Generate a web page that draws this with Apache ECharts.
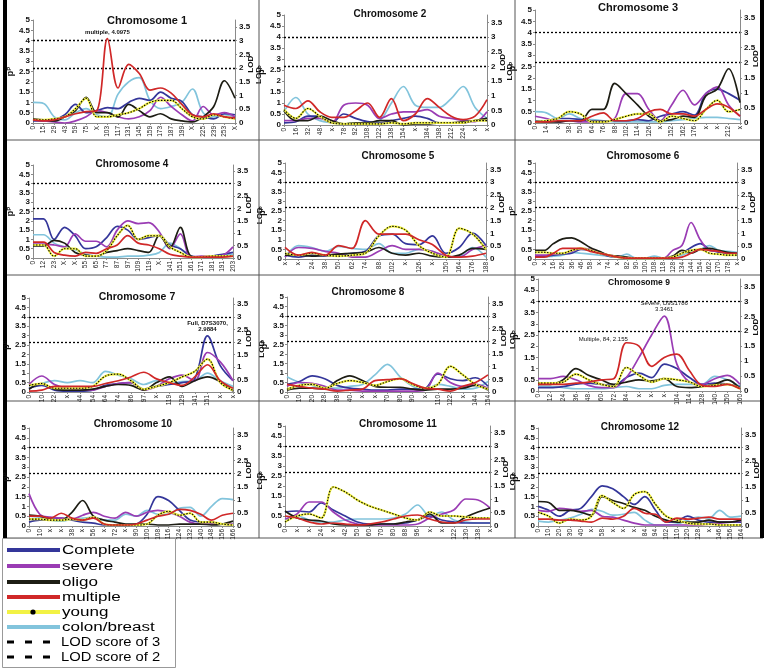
<!DOCTYPE html>
<html>
<head>
<meta charset="utf-8">
<script src="https://cdn.jsdelivr.net/npm/echarts@6/dist/echarts.min.js"></script>
<style>
  html, body { margin: 0; padding: 0; background: #fff; }
  #chart { width: 769px; height: 668px; }
</style>
</head>
<body>
<div id="chart"></div>
<script>
// series order inside each chromosome array:
// Complete, severe, oligo, multiple, young, colon/breast
const SERIES_NAMES = ['Complete', 'severe', 'oligo', 'multiple', 'young', 'colon/breast'];
const SERIES_COLORS = ['#34369a', '#9a3cb4', '#1d1d14', '#d02828', '#f2f244', '#82c4dc'];
const LOD_LINES = [4, 2.667]; // LOD 3 and LOD 2 on the pP scale
const LOD_LEGEND = ['LOD score of 3', 'LOD score of 2'];

const chr1Labels = ['0','15','29','43','59','75','X','103','117','131','145','159','173','187','199','X','225','239','253','X'];
const chr1 = [
  [0.1,0.1,0.15,0.4,0.9,0.5,0.6,0.75,0.7,1.0,1.2,1.1,1.5,1.2,1.05,0.4,0.3,0.2,0.45,0.4],
  [0.15,0.1,0.05,0.0,0.1,0.3,0.6,0.5,0.3,0.2,0.3,0.6,1.25,0.8,0.4,0.1,0.8,0.4,0.5,0.3],
  [0.2,0.15,0.1,0.3,0.6,1.25,0.5,0.5,0.3,0.9,0.6,0.3,0.45,0.2,0.1,0.05,0.3,0.8,2.05,1.2],
  [0.15,0.1,0.15,0.3,0.45,0.55,0.6,4.0975,1.7,2.85,2.4,1.6,1.7,1.45,0.9,0.4,0.3,0.45,0.3,0.25],
  [0.15,0.15,0.2,0.3,0.7,1.2,0.3,0.3,0.4,0.5,0.7,1.0,1.1,1.1,0.7,0.3,0.2,0.4,0.3,0.2],
  [1.0,0.95,0.3,0.15,0.5,0.7,0.4,0.3,1.4,2.0,2.2,1.1,0.7,0.8,1.0,1.65,0.5,0.3,0.4,0.3]
];

const chr2Labels = ['0','16','32','48','x','78','92','108','122','138','154','x','184','198','212','224','x','x'];
const chr2 = [
  [0.1,0.15,0.4,0.4,0.1,0.5,0.3,0.15,0.1,0.2,0.3,0.4,0.3,0.1,0.1,0.1,0.2,0.3],
  [0.2,0.2,0.3,0.3,0.1,0.9,1.0,0.9,0.3,0.5,0.6,0.6,0.7,0.4,0.3,0.2,0.15,0.6],
  [0.65,0.2,0.2,0.4,0.2,0.05,0.1,0.1,0.2,0.2,0.0,0.05,0.05,0.1,0.1,0.15,0.2,0.3],
  [0.9,0.75,1.1,0.6,0.35,0.35,0.65,1.0,0.35,1.2,0.2,0.5,1.2,0.8,0.4,0.25,0.4,1.15],
  [0.7,0.3,0.75,0.4,0.1,0.05,0.05,0.05,0.05,0.1,0.05,0.1,0.1,0.1,0.1,0.1,0.2,0.2],
  [0.6,1.25,0.5,0.2,0.1,0.05,0.1,0.1,0.2,1.0,1.75,0.9,0.8,0.8,1.2,1.75,0.8,0.3]
];

const chr3Labels = ['0','14','x','38','50','64','76','88','102','114','126','x','152','162','176','x','x','212','x'];
const chr3 = [
  [0.1,0.1,0.2,0.2,0.15,0.1,0.1,0.1,0.1,0.15,0.1,0.3,0.4,0.5,0.35,1.3,1.5,1.3,1.0],
  [0.3,0.2,0.05,0.1,0.05,0.05,0.05,0.2,1.3,1.3,0.6,0.1,0.8,1.45,0.8,1.3,1.6,0.8,0.3],
  [0.05,0.05,0.05,0.1,0.1,0.6,0.6,1.75,1.3,0.8,0.3,0.1,0.15,0.3,0.25,1.2,1.5,2.4,0.9],
  [0.05,0.05,0.1,0.1,0.1,0.3,0.45,0.1,0.1,0.2,0.5,0.6,0.4,0.4,0.3,0.6,0.85,0.7,0.3],
  [0.05,0.1,0.2,0.5,0.4,0.05,0.05,0.15,0.3,0.4,0.4,0.05,0.3,0.2,0.1,0.6,1.0,0.5,0.6],
  [0.5,0.45,0.2,0.4,0.2,0.15,0.1,0.05,0.05,0.05,0.05,0.05,0.1,0.15,0.2,0.25,0.25,0.2,0.15]
];

const chr4Labels = ['0','12','23','X','X','55','65','77','87','97','109','119','X','141','151','161','171','181','191','203'];
const chr4 = [
  [2.1,2.1,1.0,1.65,1.2,0.5,0.6,1.1,1.7,1.5,1.0,1.1,1.2,0.7,0.5,0.1,0.05,0.1,0.2,0.3],
  [0.75,0.75,0.7,0.6,1.3,0.9,0.9,0.6,1.5,2.0,1.85,1.9,1.4,0.5,1.3,0.05,0.1,0.1,0.15,0.6],
  [0.65,0.65,0.95,0.8,0.3,0.15,0.1,0.3,0.4,0.5,0.4,0.3,1.2,0.55,1.65,0.1,0.05,0.05,0.1,0.1],
  [0.85,0.85,0.3,0.15,0.1,0.3,0.25,0.5,0.7,1.2,0.8,0.7,0.5,0.2,0.1,0.05,0.05,0.05,0.05,0.1],
  [0.7,0.7,0.1,0.5,0.5,0.1,0.1,0.4,1.2,1.75,1.0,1.2,1.2,0.6,0.3,0.05,0.05,0.1,0.1,0.1],
  [1.25,1.25,0.8,0.6,0.45,0.2,0.1,0.05,0.05,0.1,0.1,0.15,0.3,0.8,0.5,0.1,0.05,0.1,0.15,0.2]
];

const chr5Labels = ['x','x','24','38','50','62','74','88','102','x','126','x','150','164','176','188'];
const chr5 = [
  [0.2,0.1,0.2,0.15,0.2,0.3,0.4,1.2,1.3,0.8,0.75,1.2,0.3,0.6,1.35,0.7],
  [0.1,0.6,0.55,0.4,0.3,0.1,0.1,0.4,0.7,0.5,0.5,0.4,0.15,0.1,0.5,0.7],
  [0.2,0.2,0.15,0.2,0.25,0.3,0.35,0.6,0.3,0.2,0.3,0.15,0.1,0.2,0.55,0.5],
  [0.6,0.2,0.35,0.2,0.7,0.55,2.0,1.3,1.3,1.3,1.0,0.75,0.2,0.1,0.15,0.3],
  [0.3,0.2,0.3,0.2,0.15,0.2,0.3,1.2,1.7,1.5,0.7,0.3,0.1,1.6,1.3,0.5],
  [0.1,0.7,0.6,0.4,0.65,0.55,0.5,0.8,0.3,0.3,0.5,0.4,0.1,0.15,0.6,0.1]
];

const chr6Labels = ['0','x','16','26','36','46','58','x','74','x','82','90','100','108','118','128','134','144','154','162','170','178','x'];
const chr6 = [
  [0.15,0.15,0.2,0.25,0.3,0.5,0.45,0.3,0.15,0.1,0.05,0.05,0.05,0.05,0.05,0.1,0.3,0.6,0.8,0.5,0.35,0.3,0.3],
  [0.2,0.2,0.25,0.3,0.4,0.55,0.5,0.35,0.2,0.15,0.05,0.05,0.05,0.05,0.05,0.45,0.7,1.9,1.0,0.45,0.4,0.3,0.25],
  [0.45,0.45,0.8,1.05,1.1,0.9,0.6,0.4,0.2,0.15,0.1,0.05,0.05,0.05,0.05,0.15,0.45,0.3,0.5,0.55,0.45,0.35,0.3],
  [0.1,0.1,0.3,0.55,0.55,0.55,0.4,0.3,0.2,0.1,0.05,0.05,0.05,0.05,0.05,0.05,0.1,0.3,0.5,0.45,0.4,0.3,0.3],
  [0.35,0.35,0.3,0.3,0.45,0.55,0.45,0.3,0.2,0.1,0.05,0.05,0.05,0.05,0.05,0.1,0.3,0.45,0.5,0.3,0.25,0.2,0.2],
  [0.1,0.1,0.15,0.2,0.35,0.3,0.25,0.2,0.15,0.1,0.25,0.05,0.05,0.15,0.05,0.05,0.2,0.4,0.5,0.7,0.45,0.4,0.35]
];

const chr7Labels = ['0','10','22','x','44','54','64','74','86','97','x','119','129','141','151','x','x'];
const chr7 = [
  [0.2,0.35,0.1,0.05,0.05,0.1,0.35,0.45,0.5,0.15,0.3,0.4,0.5,0.7,2.9884,1.4,0.6],
  [0.4,0.85,0.4,0.2,0.1,0.1,0.3,0.45,0.5,0.1,0.3,0.7,0.9,0.6,2.1,1.6,0.6],
  [0.15,0.45,0.15,0.1,0.1,0.15,0.3,0.4,0.35,0.1,0.5,0.8,0.3,0.6,0.8,0.55,0.05],
  [0.05,0.1,0.3,0.3,0.3,0.3,0.45,0.6,0.8,1.05,0.7,0.5,0.35,0.8,1.45,0.6,0.2],
  [0.35,0.45,0.2,0.2,0.2,0.3,0.85,0.95,0.6,0.15,0.3,0.5,0.8,1.1,1.75,0.5,0.1],
  [0.2,0.45,0.6,0.5,0.6,0.5,1.1,0.9,0.7,0.4,0.6,0.45,0.55,0.6,1.0,0.6,0.3]
];

const chr8Labels = ['0','10','20','28','38','40','x','x','70','80','90','x','110','122','x','144','154'];
const chr8 = [
  [0.4,0.55,0.85,0.7,0.35,0.2,0.15,0.1,0.1,0.15,0.15,0.2,0.95,0.7,0.6,0.75,0.3],
  [0.3,0.5,0.45,0.3,0.1,0.1,0.05,0.05,0.05,0.05,0.05,0.1,1.0,0.5,0.3,0.4,0.2],
  [0.1,0.2,0.2,0.15,0.6,0.85,0.6,0.3,0.25,0.25,0.15,0.1,0.15,0.15,0.2,0.35,0.1],
  [0.4,0.3,0.2,0.15,0.05,0.1,0.15,0.6,0.65,0.7,0.45,0.2,0.15,0.05,0.3,0.5,0.9],
  [0.15,0.35,0.4,0.2,0.45,0.6,0.5,0.35,0.55,0.7,0.4,0.2,0.4,1.35,0.9,0.4,0.15],
  [0.8,0.5,0.35,0.2,0.2,0.3,0.4,0.9,1.45,0.8,0.3,0.1,0.4,0.3,0.15,0.2,0.55]
];

const chr9Labels = ['0','12','24','36','48','60','72','84','x','x','x','104','114','128','140','150','160'];
const chr9 = [
  [0.15,0.15,0.2,0.3,0.35,0.3,0.25,0.6,0.8,0.6,1.2,1.0,0.6,0.3,0.35,0.3,0.2],
  [0.55,0.55,0.65,0.5,0.25,0.15,0.15,0.6,1.5,2.5,3.3461,1.2,0.4,0.3,0.55,0.7,0.3],
  [0.3,0.3,0.5,1.0,0.7,0.5,0.3,0.4,0.5,0.45,0.55,0.2,0.15,0.2,0.3,0.5,0.1],
  [0.3,0.3,0.3,0.35,0.4,0.5,0.55,2.155,2.0,1.1,1.5,1.65,0.9,0.25,0.2,0.3,0.1],
  [0.35,0.35,0.4,0.75,0.5,0.3,0.2,1.05,0.7,0.4,0.55,0.5,0.4,0.2,0.25,0.3,0.1],
  [0.2,0.2,0.15,0.1,0.1,0.1,0.15,0.2,0.1,0.1,0.25,0.3,0.3,0.3,0.65,0.5,0.2]
];

const chr10Labels = ['0','10','x','x','38','x','56','x','72','x','90','100','108','116','124','132','140','148','156','166'];
const chr10 = [
  [0.2,0.3,0.3,0.4,0.3,0.2,0.15,0.05,0.05,0.05,0.1,0.6,1.5,1.3,0.8,0.3,0.2,0.15,0.1,0.05],
  [1.65,0.6,0.45,0.4,0.35,0.55,0.7,0.5,0.4,0.7,0.5,0.7,0.8,0.7,0.5,0.2,0.1,0.1,0.1,0.1],
  [0.55,0.5,0.35,0.3,0.7,1.3,0.5,0.3,0.2,0.1,0.1,0.1,0.05,0.05,0.1,0.1,0.1,0.05,0.1,0.25],
  [0.5,0.5,0.4,0.65,0.4,0.3,0.4,0.1,0.05,0.05,0.1,0.3,0.5,0.6,0.85,0.8,0.6,0.3,0.55,0.65],
  [0.35,0.35,0.3,0.3,0.35,0.3,0.45,0.1,0.05,0.05,0.05,0.1,0.55,0.75,0.55,0.65,0.2,0.2,0.1,0.05],
  [0.5,0.45,0.3,0.25,0.35,0.4,0.45,0.3,0.3,0.6,0.5,0.8,0.6,0.6,0.9,0.95,0.5,1.0,1.4,1.35]
];

const chr11Labels = ['0','x','x','24','x','42','50','60','70','80','88','96','x','x','122','130','138','x'];
const chr11 = [
  [0.7,0.75,0.7,1.15,0.8,0.5,0.2,0.1,0.1,0.1,0.15,0.3,0.5,0.3,0.2,0.15,0.15,0.15],
  [0.35,0.6,1.2,1.2,0.7,0.3,0.1,0.05,0.05,0.05,0.05,0.1,0.4,0.6,0.8,1.35,1.3,0.9],
  [0.75,0.4,0.3,0.25,0.1,0.05,0.05,0.05,0.1,0.1,0.2,0.3,0.6,0.15,0.15,0.45,0.7,0.9],
  [0.5,0.4,0.2,0.1,0.15,0.1,0.05,0.1,0.2,0.35,0.5,0.55,0.35,0.2,0.15,0.3,0.35,0.35],
  [0.2,0.5,0.6,0.4,1.95,1.7,1.3,1.0,0.8,0.6,0.4,0.3,0.7,0.5,0.5,0.45,0.4,0.4],
  [0.3,0.5,0.3,0.2,0.2,0.3,0.35,0.35,0.35,0.4,0.6,1.05,0.5,0.7,0.3,0.2,0.15,0.15]
];

const chr12Labels = ['0','10','20','30','40','x','58','x','x','x','84','94','102','110','120','128','x','146','156','164'];
const chr12 = [
  [1.0,0.8,0.5,0.8,0.9,1.5,2.05,1.9,1.5,1.1,1.5,0.8,0.2,0.25,0.5,0.3,0.2,0.2,0.2,0.2],
  [0.8,0.75,0.9,0.85,0.75,0.8,0.5,0.45,0.3,0.15,0.05,0.05,0.05,0.05,0.05,0.05,0.1,0.15,0.2,0.25],
  [1.25,1.2,0.8,0.8,0.7,0.55,1.5,1.3,1.15,0.95,0.8,0.5,0.3,0.2,0.2,0.2,0.3,0.2,0.2,0.3],
  [0.35,0.35,0.3,0.3,0.25,0.2,0.4,0.35,0.5,0.9,0.65,0.6,0.2,0.4,0.35,0.4,0.45,0.35,0.35,0.35],
  [0.7,0.5,0.15,0.35,0.3,0.5,1.55,1.2,0.9,1.6,1.75,1.1,0.5,0.3,0.15,0.1,0.1,0.05,0.05,0.05],
  [0.25,0.2,0.3,0.4,0.6,0.85,0.75,0.55,0.6,0.7,0.3,0.05,0.05,0.1,0.3,0.45,0.4,0.8,0.45,0.5]
];

const CHR_DATA = [chr1, chr2, chr3, chr4, chr5, chr6, chr7, chr8, chr9, chr10, chr11, chr12];
const CHR_LABELS = [chr1Labels, chr2Labels, chr3Labels, chr4Labels, chr5Labels, chr6Labels,
  chr7Labels, chr8Labels, chr9Labels, chr10Labels, chr11Labels, chr12Labels];

// peak call-outs: chromosome index, series index, point index, text
const ANNOTATIONS = [
  { chr: 0, series: 3, index: 7, text: 'multiple, 4.0975', bold: true, pos: 'top' },
  { chr: 6, series: 0, index: 14, text: 'Full, D7S3070,\n2.9884', bold: true, pos: 'top' },
  { chr: 8, series: 1, index: 10, text: 'Severe, D9S1786\n3.3461', bold: false, pos: 'top' },
  { chr: 8, series: 3, index: 7, text: 'Multiple, 84, 2.155', bold: false, pos: 'left' }
];

// layout: plot box [left, top, right, bottom] and title [centerX, centerY, fontSize]
const PLOT_BOX = [
  [33, 20, 235, 123], [284, 15, 487, 125], [535, 10, 740, 123],
  [33, 165, 233, 258], [285, 163, 486, 259], [535, 163, 737, 259],
  [29, 298, 233, 392], [287, 297, 488, 392], [538, 279, 740, 391],
  [29, 428, 233, 526], [285, 426, 490, 526], [538, 428, 741, 526]
];
const TITLE_BOX = [
  [147, 22, 11], [390, 15, 10], [638, 9, 11],
  [132, 165, 10], [398, 157, 10], [643, 157, 10],
  [137, 298, 10.5], [368, 293, 10], [639, 283, 8.5],
  [133, 425, 10], [398, 425, 10], [640, 428, 10]
];
const EXTRA_LEFT_LOD = [1, 2, 4, 7, 8, 10, 11];

const FONT = '"Liberation Sans", Arial, sans-serif';
const DRAW_ORDER = [5, 0, 1, 2, 4, 3];

const chart = echarts.init(document.getElementById('chart'), null, { renderer: 'canvas' });

const grids = [], xAxes = [], yAxes = [], series = [], titles = [], graphics = [];

CHR_DATA.forEach((chr, i) => {
  const [l, t, r, b] = PLOT_BOX[i];
  grids.push({ left: l, top: t, width: r - l, height: b - t, outerBoundsMode: 'none' });

  xAxes.push({
    type: 'category', gridIndex: i, data: CHR_LABELS[i], boundaryGap: false,
    axisLine: { lineStyle: { color: '#8a8a8a', width: 1 } },
    axisTick: { show: true, length: 2, lineStyle: { color: '#8a8a8a' } },
    axisLabel: { rotate: 90, interval: 0, fontSize: 6.5, margin: 3, color: '#222', fontFamily: FONT }
  });

  yAxes.push({
    type: 'value', gridIndex: i, position: 'left', min: 0, max: 5, interval: 0.5,
    name: '{p|p}{s|P}', nameLocation: 'middle', nameGap: 13, nameRotate: 90,
    nameTextStyle: { rich: { p: { fontSize: 9, fontWeight: 'bold', fontFamily: FONT, color: '#111' },
                             s: { fontSize: 6, fontWeight: 'bold', fontFamily: FONT, color: '#111', verticalAlign: 'top' } } },
    axisLine: { show: true, lineStyle: { color: '#8a8a8a' } },
    axisTick: { show: true, length: 2, lineStyle: { color: '#8a8a8a' } },
    axisLabel: { fontSize: 8, fontWeight: 'bold', margin: 3, color: '#111', fontFamily: FONT },
    splitLine: { show: false }
  });
  yAxes.push({
    type: 'value', gridIndex: i, position: 'right', min: 0, max: 3.75, interval: 0.5,
    axisLine: { show: true, lineStyle: { color: '#8a8a8a' } },
    axisTick: { show: true, length: 2, lineStyle: { color: '#8a8a8a' } },
    axisLabel: { fontSize: 8, fontWeight: 'bold', margin: 4, color: '#111', fontFamily: FONT,
                 showMaxLabel: false, formatter: v => (v > 3.6 ? '' : String(v)) },
    splitLine: { show: false }
  });

  DRAW_ORDER.forEach((s, k) => {
    const item = {
      type: 'line', name: SERIES_NAMES[s], xAxisIndex: i, yAxisIndex: 2 * i,
      data: chr[s], smooth: 0.35, symbol: 'none', silent: true,
      lineStyle: { color: SERIES_COLORS[s], width: s === 4 ? 2.2 : 1.7 },
      z: 2 + k
    };
    if (k === 0) {
      item.markLine = {
        silent: true, symbol: ['none', 'none'], label: { show: false },
        lineStyle: { color: '#000', type: [2, 2], width: 1.3 },
        data: LOD_LINES.map(v => ({ yAxis: v }))
      };
    }
    const notes = ANNOTATIONS.filter(a => a.chr === i && a.series === s);
    if (notes.length) {
      item.markPoint = {
        symbol: 'circle', symbolSize: 1, itemStyle: { color: 'rgba(0,0,0,0)' },
        data: notes.map(a => ({
          coord: [a.index, chr[s][a.index]],
          label: {
            show: true, formatter: a.text, position: a.pos,
            distance: a.pos === 'left' ? 2 : 3,
            offset: a.pos === 'left' ? [4, -3] : [0, 0],
            fontSize: 6, lineHeight: 6, fontWeight: a.bold ? 'bold' : 'normal',
            color: '#111', fontFamily: FONT
          }
        }))
      };
    }
    series.push(item);
    if (s === 4) {
      // black dotted trace drawn over the yellow "young" line
      series.push({
        type: 'line', name: 'young-dots', xAxisIndex: i, yAxisIndex: 2 * i,
        data: chr[s], smooth: 0.35, symbol: 'none', silent: true,
        lineStyle: { color: '#000', width: 1.1, type: [1.5, 1.5] }, z: 2 + k
      });
    }
  });

  const [cx, cy, fs] = TITLE_BOX[i];
  titles.push({
    text: 'Chromosome ' + (i + 1), left: cx, top: cy - fs * 0.6, textAlign: 'center', padding: 0,
    textStyle: { fontSize: fs, fontWeight: 'bold', color: '#111', fontFamily: FONT }
  });

  graphics.push({
    type: 'text', x: r + 16, y: t + (b - t) * 0.43, rotation: Math.PI / 2,
    style: { text: 'LOD', font: 'bold 8px ' + FONT, fill: '#111', align: 'center', verticalAlign: 'middle' }
  });
  if (EXTRA_LEFT_LOD.includes(i)) {
    graphics.push({
      type: 'text', x: l - 25, y: t + (b - t) * 0.55, rotation: Math.PI / 2,
      style: { text: 'LOD', font: 'bold 8px ' + FONT, fill: '#111', align: 'center', verticalAlign: 'middle' }
    });
  }
});

// panel frame
const frame = [
  [259, 0, 259, 538], [515, 0, 515, 538],
  [5, 140, 763, 140], [5, 275, 763, 275], [5, 401, 763, 401], [5, 538, 763, 538]
];
frame.forEach(([x1, y1, x2, y2]) => {
  graphics.push({ type: 'line', shape: { x1, y1, x2, y2 }, style: { stroke: '#555', lineWidth: 1 }, silent: true });
});
graphics.push({ type: 'rect', shape: { x: 3, y: 0, width: 4, height: 538 }, style: { fill: '#000' } });
graphics.push({ type: 'rect', shape: { x: 760, y: 0, width: 4, height: 538 }, style: { fill: '#000' } });

// legend box
graphics.push({ type: 'rect', shape: { x: 2.5, y: 538.5, width: 173, height: 129 }, style: { fill: '#fff', stroke: '#999', lineWidth: 1 } });
const LEGEND_Y = [550, 566, 582, 597, 612, 627, 642, 657];
SERIES_NAMES.forEach((name, k) => {
  const y = LEGEND_Y[k];
  graphics.push({ type: 'rect', shape: { x: 7, y: y - 2, width: 53, height: 4 }, style: { fill: SERIES_COLORS[k] } });
  if (k === 4) {
    graphics.push({ type: 'circle', shape: { cx: 33, cy: y, r: 2.6 }, style: { fill: '#000' } });
  }
  graphics.push({
    type: 'text', x: 62, y: y + 1, scaleX: 1.42,
    style: { text: name, font: '12px ' + FONT, fill: '#000', verticalAlign: 'middle' }
  });
});
LOD_LEGEND.forEach((name, k) => {
  const y = LEGEND_Y[6 + k];
  [7, 25, 43].forEach(x => {
    graphics.push({ type: 'rect', shape: { x, y: y - 1.5, width: 7, height: 3 }, style: { fill: '#000' } });
  });
  graphics.push({
    type: 'text', x: 61, y: y + 1, scaleX: 1.18,
    style: { text: name, font: '12.5px ' + FONT, fill: '#000', verticalAlign: 'middle' }
  });
});

chart.setOption({
  animation: false,
  backgroundColor: '#fff',
  title: titles,
  grid: grids,
  xAxis: xAxes,
  yAxis: yAxes,
  series: series,
  graphic: graphics
});
</script>
</body>
</html>
